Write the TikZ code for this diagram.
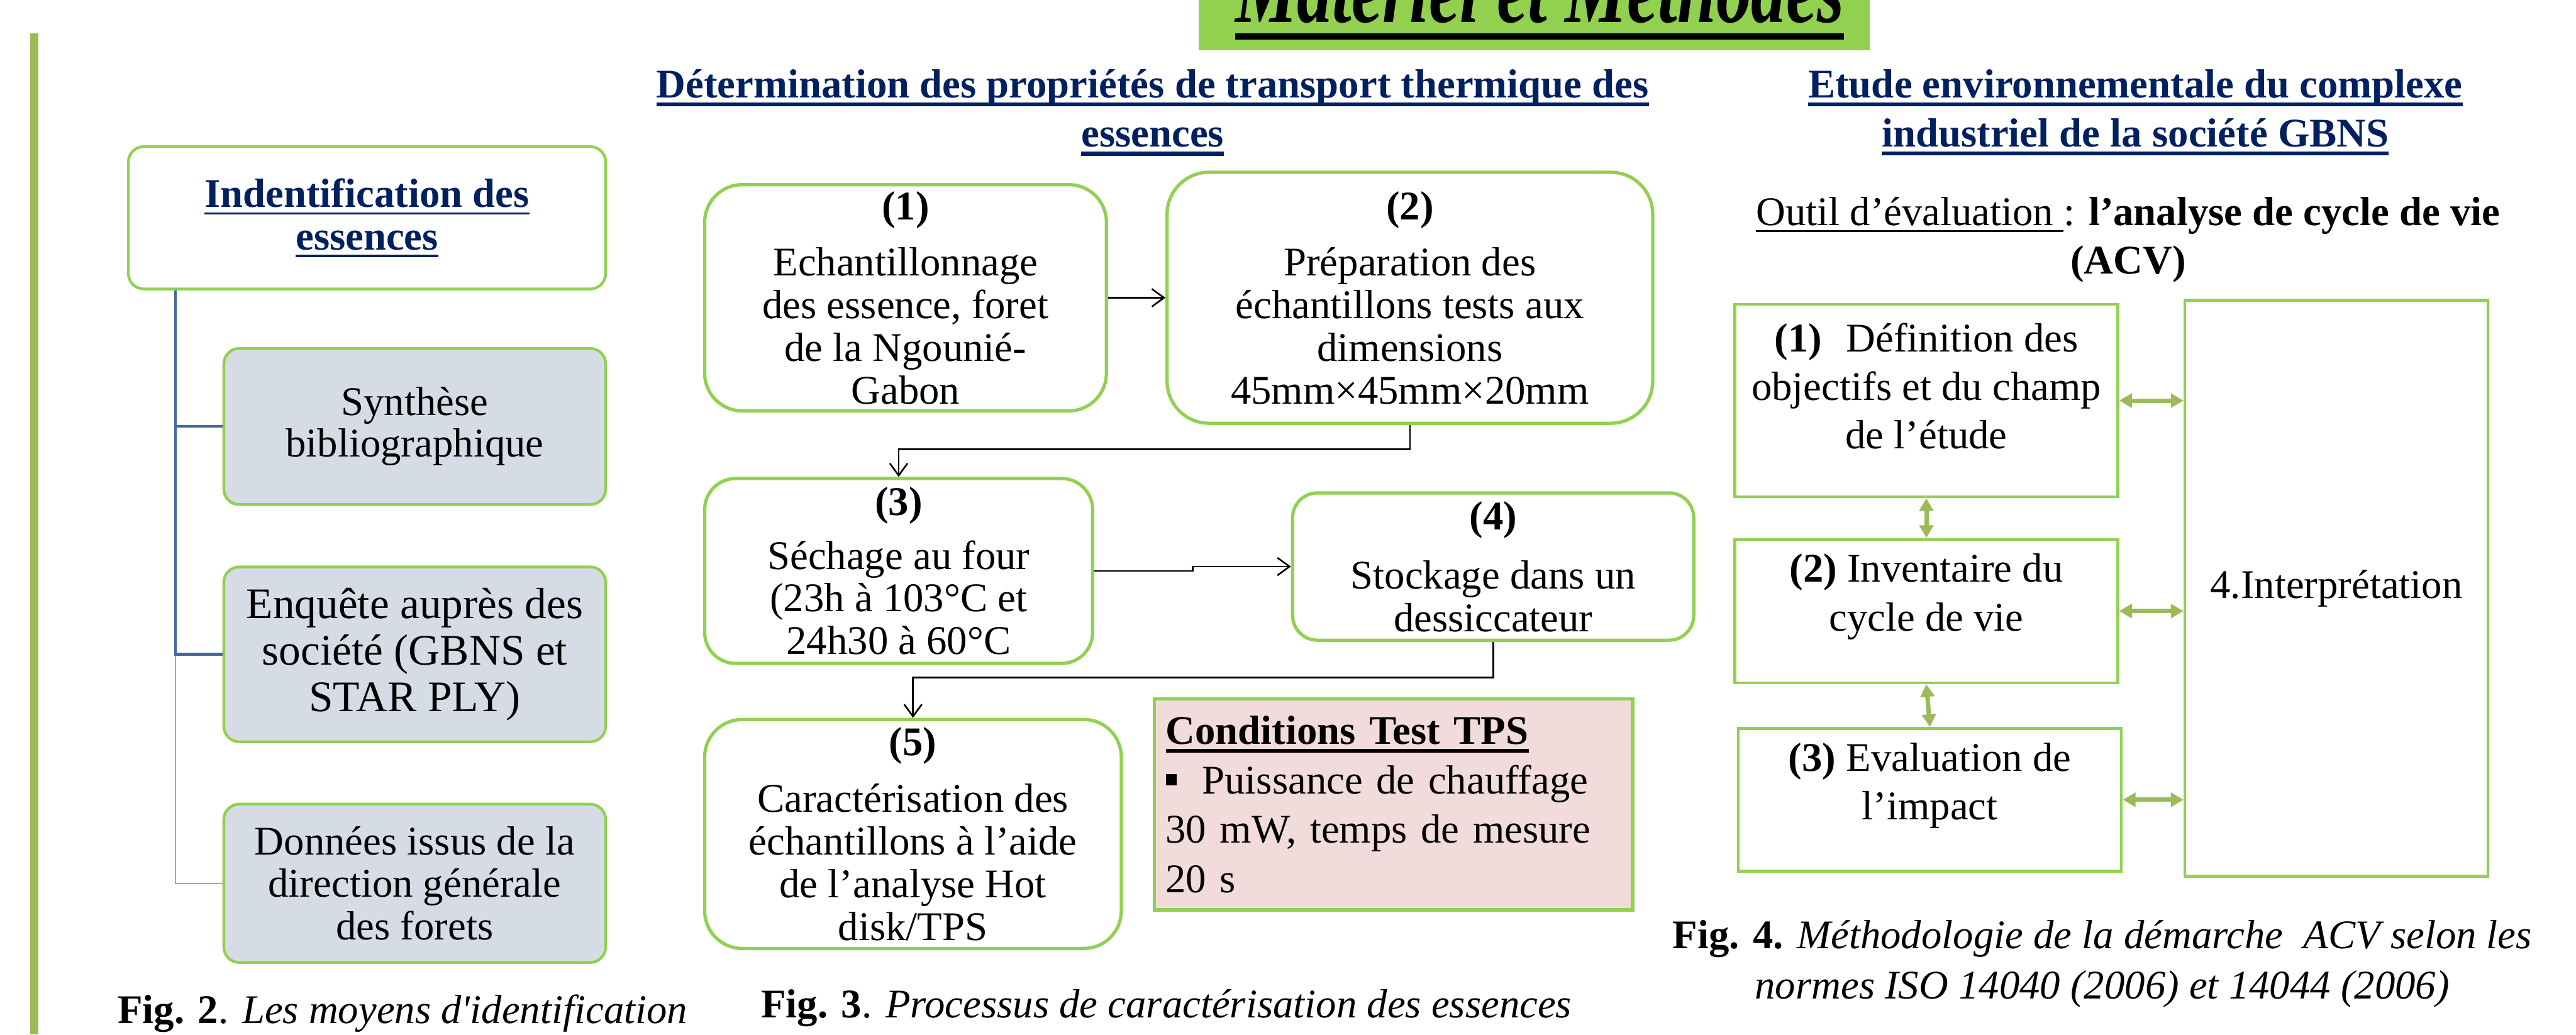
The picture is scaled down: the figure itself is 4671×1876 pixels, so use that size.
\documentclass[tikz,border=0pt]{standalone}
\usepackage{fontspec}
\setmainfont{Liberation Serif}
\newfontfamily\titlefont[FakeStretch=0.75]{Liberation Serif}
\usepackage{tikz}
\usetikzlibrary{arrows.meta, positioning, calc}

\definecolor{boxgreen}{HTML}{92D050}
\definecolor{olivegreen}{HTML}{9BBB59}
\definecolor{headnavy}{HTML}{002060}
\definecolor{greyblue}{HTML}{D6DCE5}
\definecolor{pinkfill}{HTML}{F2DCDB}
\definecolor{treeblue}{HTML}{3F6A9C}

% souligné épais
\newsavebox{\ulbox}
\newcommand{\hul}[2][0.1em]{\sbox{\ulbox}{#2}\rlap{\rule[\dimexpr-0.12em-#1\relax]{\wd\ulbox}{#1}}\usebox{\ulbox}}

\begin{document}
\begin{tikzpicture}[
    x=0.01cm, y=-0.01cm,
    every node/.style={inner sep=0pt, font=\fontsize{21}{22}\selectfont},
    titletext/.style={anchor=base, font=\titlefont\bfseries\itshape\fontsize{48}{50}\selectfont},
    hd/.style={align=center, text=headnavy, font=\bfseries\fontsize{21}{25.3}\selectfont},
    idhead/.style={rectangle, draw=boxgreen, line width=0.05cm, rounded corners=0.28cm, fill=white, minimum width=8.65cm, minimum height=2.58cm, align=center, text=headnavy, font=\bfseries\fontsize{21}{22}\selectfont},
    idbox/.style={rectangle, draw=boxgreen, line width=0.05cm, rounded corners=0.28cm, fill=greyblue, minimum width=6.92cm, align=center},
    stepbox/.style={rectangle, draw=boxgreen, line width=0.06cm, rounded corners=0.68cm, fill=white, align=center, font=\fontsize{21}{22}\selectfont},
    condbox/.style={rectangle, draw=boxgreen, line width=0.06cm, fill=pinkfill, inner xsep=0.21cm, text width=8.25cm, minimum height=3.82cm, align=left, font=\fontsize{21}{25.5}\selectfont},
    acvbox/.style={rectangle, draw=boxgreen, line width=0.05cm, fill=white, minimum width=6.94cm, align=center, font=\fontsize{21}{25}\selectfont},
    acvtext/.style={align=center, font=\fontsize{21}{25}\selectfont},
    captext/.style={align=center, font=\fontsize{21}{26}\selectfont},
    arrow/.style={line width=0.03cm, -{Straight Barb[length=0.22cm, width=0.32cm]}},
    dbl/.style={line width=0.08cm, draw=olivegreen, {Triangle[length=0.23cm, width=0.25cm]}-{Triangle[length=0.23cm, width=0.25cm]}},
    treeb/.style={draw=treeblue, line width=0.05cm},
    treeg/.style={draw=olivegreen, line width=0.02cm}
]
    \useasboundingbox (0,0) rectangle (4671,1876);
    \clip (0,0) rectangle (4671,1876);

    % --- Titre et barre de gauche ---
    \fill[boxgreen] (2174,-10) rectangle (3390,91);
    \node[titletext] (title) at (2792,40) {\hul[0.07em]{Matériel et Méthodes}};
    \fill[olivegreen] (55,60) rectangle (69,1876);

    % --- Identification des essences ---
    \node[idhead] (idn) at (665.5,395) {\hul[0.05em]{Indentification des}\\\hul[0.05em]{essences}};
    \node[idbox, minimum height=2.83cm, font=\fontsize{21}{21.5}\selectfont] (syn) at (752,773.5) {Synthèse\\bibliographique};
    \node[idbox, minimum height=3.17cm, below=1.08cm of syn, font=\fontsize{22.5}{24}\selectfont] (enq) {Enquête auprès des\\société (GBNS et\\STAR PLY)};
    \node[idbox, minimum height=2.87cm, below=1.08cm of enq] (don) {Données issus de la\\direction générale\\des forets};

    \coordinate (tr) at ($(idn.south west)+(88,0)$);
    \draw[treeg] (tr) |- (don.west);
    \draw[treeb] (tr) |- (syn.west);
    \draw[treeb] (tr) |- (enq.west);

    \node[captext] (fig2) at (730,1838) {\textbf{Fig. 2}. \textit{Les moyens d\textquotesingle identification}};

    % --- Transport thermique ---
    \node[hd] (hdmid) at (2090,204) {\hul{Détermination des propriétés de transport thermique des}\\\hul{essences}};

    \node[stepbox, minimum width=7.28cm, minimum height=4.1cm] (p1) at (1642,540) {\textbf{(1)}\\[0.25cm]Echantillonnage\\des essence, foret\\de la Ngounié-\\Gabon};
    \node[stepbox, minimum width=8.8cm, minimum height=4.55cm, rounded corners=0.76cm, right=1.04cm of p1] (p2) {\textbf{(2)}\\[0.25cm]Préparation des\\échantillons tests aux\\dimensions\\45mm×45mm×20mm};
    \node[stepbox, minimum width=7.03cm, minimum height=3.35cm, rounded corners=0.56cm] (p3) at (1629.5,1035.5) {\textbf{(3)}\\[0.2cm]Séchage au four\\(23h à 103°C et\\24h30 à 60°C};
    \node[stepbox, minimum width=7.27cm, minimum height=2.67cm, rounded corners=0.45cm] (p4) at (2707.5,1027.5) {\textbf{(4)}\\[0.3cm]Stockage dans un\\dessiccateur};
    \node[stepbox, minimum width=7.55cm, minimum height=4.15cm] (p5) at (1655.5,1512.5) {\textbf{(5)}\\[0.25cm]Caractérisation des\\échantillons à l’aide\\de l’analyse Hot\\disk/TPS};
    \node[condbox] (cond) at (2526.5,1459) {\textbf{\hul[0.08em]{Conditions Test TPS}}\\\rule[0.2em]{0.2cm}{0.21cm}\hspace{0.46cm}Puissance de chauffage\\\makebox[\linewidth][s]{30 mW, temps de mesure}\\20 s};

    \draw[arrow] (p1) -- (p2);
    \draw[arrow] (p2.south) |- ($(p3.north)+(0,-50)$) -- (p3.north);
    \coordinate (m34) at ($(p3.east)!0.5!(p4.west)$);
    \draw[arrow] (p3.east) -- (p3.east -| m34) -- (m34 |- p4.west) -- (p4.west);
    \draw[arrow] (p4.south) |- ($(p5.north)+(0,-73)$) -- (p5.north);

    \node[captext] (fig3) at (2115,1828) {\textbf{Fig. 3}. \textit{Processus de caractérisation des essences}};

    % --- Etude environnementale (ACV) ---
    \node[hd] (hdenv) at (3872,204) {\hul{Etude environnementale du complexe}\\\hul{industriel de la société GBNS}};
    \node[acvtext] (outil) at (3859,435) {\hul[0.04em]{Outil d’évaluation\ }: \textbf{l’analyse de cycle de vie}\\\textbf{(ACV)}};

    \node[acvbox, minimum height=3.49cm] (acv1) at (3493,726.5) {};
    \node[acvbox, minimum height=2.6cm, below=0.72cm of acv1] (acv2) {};
    \node[acvbox, minimum height=2.59cm] (acv3) at (3499.5,1450.5) {};
    \node[acvbox, minimum width=5.49cm, minimum height=10.44cm] (interp) at (4236.5,1067) {4.Interprétation};

    \node[acvtext] at ([yshift=0.26cm]acv1.center) {\textbf{(1)}\hspace{0.6em}Définition des\\objectifs et du champ\\de l’étude};
    \node[acvtext] at ([yshift=0.26cm]acv2.center) {\textbf{(2)} Inventaire du\\cycle de vie};
    \node[acvtext] at ([yshift=0.26cm]acv3.center) {\textbf{(3)} Evaluation de\\l’impact};

    \draw[dbl] (acv1.east) -- (acv1.east -| interp.west);
    \draw[dbl] (acv2.east) -- (acv2.east -| interp.west);
    \draw[dbl] (acv3.east) -- (acv3.east -| interp.west);
    \draw[dbl] (acv1) -- (acv2);
    \draw[dbl] (acv2.south) -- (acv3.north);

    \node[captext] (fig4) at (3812,1748) {\textbf{Fig. 4.} \textit{Méthodologie de la démarche\ \ ACV selon les}\\\textit{normes ISO 14040 (2006) et 14044 (2006)}};
\end{tikzpicture}
\end{document}
